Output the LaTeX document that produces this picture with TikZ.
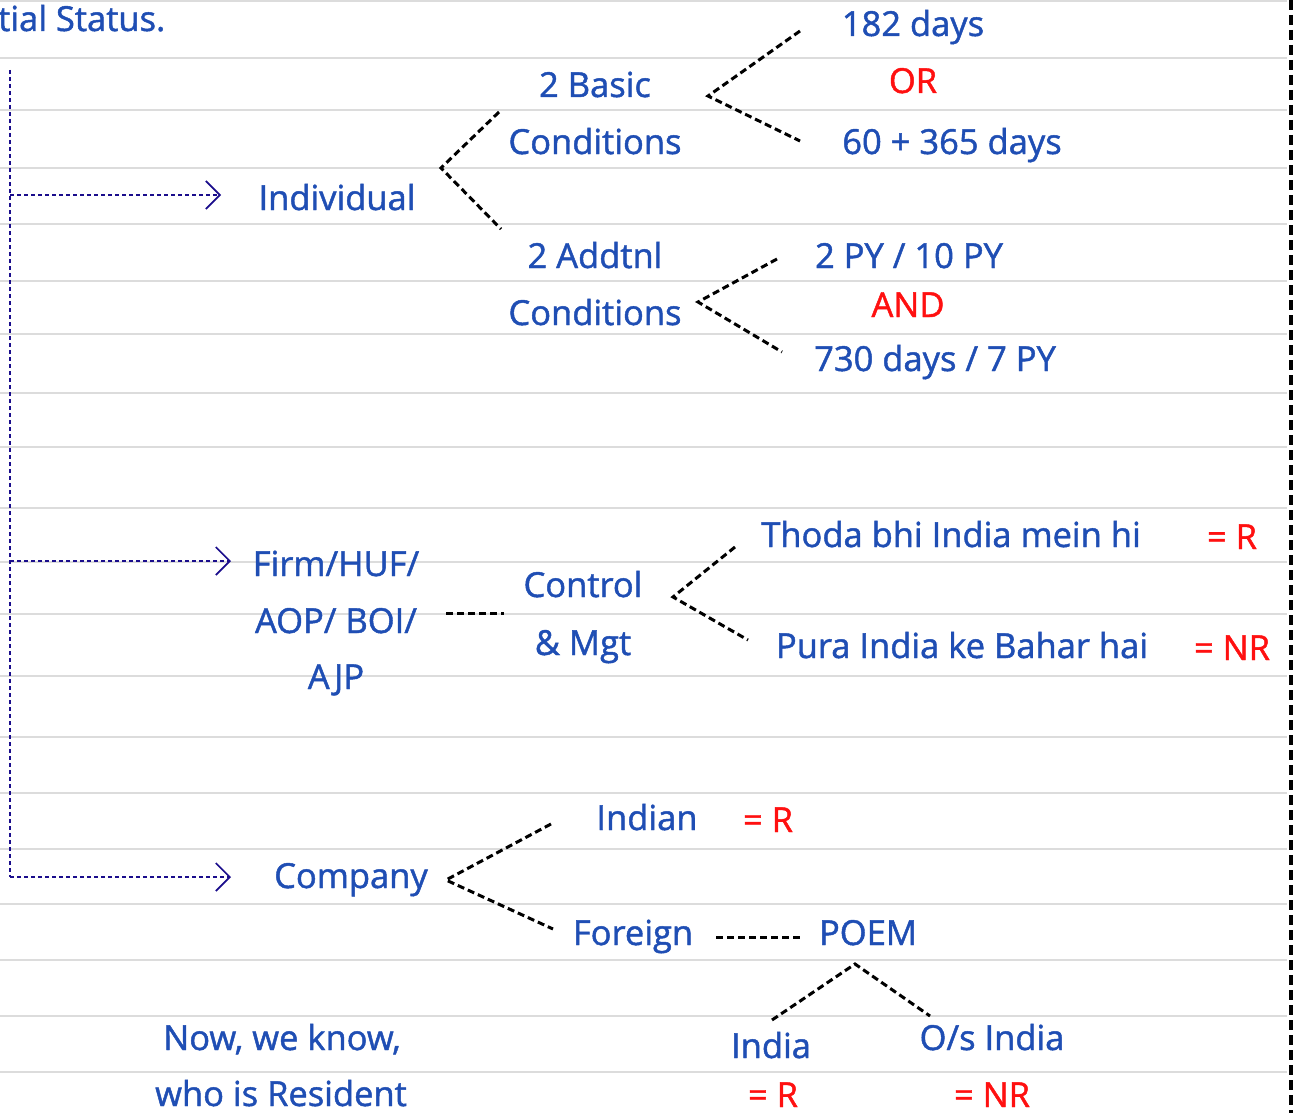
\documentclass[tikz,border=0pt]{standalone}
\usepackage{fontspec}
\setmainfont{Open Sans}
\newfontfamily\handfont{Open Sans}[FakeBold=1.3]
\usetikzlibrary{arrows.meta}
\definecolor{inkblue}{HTML}{1F4EB4}
\definecolor{inkred}{HTML}{FF1010}
\definecolor{rulegray}{HTML}{DCDCDC}
\definecolor{guide}{HTML}{1A0D8C}
\tikzset{
  txt/.style={anchor=base, text=inkblue, font=\handfont\fontsize{34.5}{34.5}\selectfont, inner sep=0pt},
  redtxt/.style={txt, text=inkred},
  branch/.style={draw=black, line width=3pt, dash pattern=on 7pt off 4pt},
  guideline/.style={draw=guide, line width=1.7pt, dash pattern=on 4pt off 3pt},
  guidearrow/.style={guideline, -{Straight Barb[length=14pt,width=28pt,line width=1.7pt]}},
  ruleline/.style={draw=rulegray, line width=2.5pt},
}
\begin{document}
\begin{tikzpicture}[x=1pt,y=-1pt]
\useasboundingbox (0,0) rectangle (1295,1113);
\fill[white] (0,0) rectangle (1295,1113);
% ruled paper
\foreach \yy in {1,58,110,168,224,281,334,393,447,508,562,614,676,737,793,849,904,960,1016,1072}
  \draw[ruleline] (0,\yy) -- (1287,\yy);
\draw[line width=4.5pt, dash pattern=on 10pt off 5pt] (1291,0) -- (1291,1113);

% texts
\node[txt, anchor=base west] (title) at (-2,31) {tial Status.};
\node[txt] (basic1) at (595,97) {2 Basic};
\node[txt] (basic2) at (595,154) {Conditions};
\node[txt] (d182) at (913,36) {182 days};
\node[redtxt] (or) at (913,93) {OR};
\node[txt] (d425) at (952,154) {60 + 365 days};
\node[txt] (indiv) at (337,210) {Individual};
\node[txt] (add1) at (595,268) {2 Addtnl};
\node[txt] (add2) at (595,325) {Conditions};
\node[txt] (py) at (909,268) {2 PY / 10 PY};
\node[redtxt] (and) at (908,317) {AND};
\node[txt] (d730) at (935,371) {730 days / 7 PY};
\node[txt] (firm1) at (336,576) {Firm/HUF/};
\node[txt] (firm2) at (336,633) {AOP/ BOI/};
\node[txt] (firm3) at (336,689) {AJP};
\node[txt] (ctl1) at (583,597) {Control};
\node[txt] (ctl2) at (583,655) {\& Mgt};
\node[txt] (thoda) at (951,547) {Thoda bhi India mein hi};
\node[redtxt] (r1) at (1232,549) {= R};
\node[txt] (pura) at (962,658) {Pura India ke Bahar hai};
\node[redtxt] (nr1) at (1232,660) {= NR};
\node[txt] (indian) at (647,830) {Indian};
\node[redtxt] (r2) at (768,832) {= R};
\node[txt] (company) at (351,888) {Company};
\node[txt] (foreign) at (633,945) {Foreign};
\node[txt] (poem) at (868,945) {POEM};
\node[txt] (india) at (771,1058) {India};
\node[redtxt] (r3) at (773,1107) {= R};
\node[txt] (osindia) at (992,1050) {O/s India};
\node[redtxt] (nr2) at (992,1107) {= NR};
\node[txt] (now1) at (282,1050) {Now, we know,};
\node[txt] (now2) at (281,1106) {who is Resident};

% guide line with arrows
\coordinate (gtop) at (10,70);
\coordinate (g1) at (10,195);
\coordinate (g2) at (10,561);
\coordinate (g3) at (10,877);
\coordinate (a1) at (221,195);
\coordinate (a2) at (231,561);
\coordinate (a3) at (231,877);
\draw[guideline] (gtop) -- (g3);
\draw[guidearrow] (g1) -- (a1);
\draw[guidearrow] (g2) -- (a2);
\draw[guidearrow] (g3) -- (a3);

% branches
\coordinate (vIndiv) at (441,168);
\coordinate (eB) at (499,112);
\coordinate (eA) at (501,229);
\draw[branch] (eB) -- (vIndiv) -- (eA);

\coordinate (vBasic) at (708,96);
\coordinate (e182) at (800,31);
\coordinate (e425) at (800,141);
\draw[branch] (e182) -- (vBasic) -- (e425);

\coordinate (vAdd) at (698,302);
\coordinate (ePY) at (777,259);
\coordinate (e730) at (782,352);
\draw[branch] (ePY) -- (vAdd) -- (e730);

\coordinate (fA) at (446,613);
\coordinate (fB) at (504,613);
\draw[branch] (fA) -- (fB);

\coordinate (vCtl) at (673,597);
\coordinate (eTh) at (735,547);
\coordinate (ePu) at (748,640);
\draw[branch] (eTh) -- (vCtl) -- (ePu);

\coordinate (vCo) at (446,880);
\coordinate (eIn) at (551,824);
\coordinate (eFo) at (553,929);
\draw[branch] (eIn) -- (vCo) -- (eFo);

\coordinate (pA) at (716,937);
\coordinate (pB) at (800,937);
\draw[branch] (pA) -- (pB);

\coordinate (vPo) at (855,964);
\coordinate (eIa) at (772,1020);
\coordinate (eOs) at (930,1016);
\draw[branch] (eIa) -- (vPo) -- (eOs);
\end{tikzpicture}
\end{document}
